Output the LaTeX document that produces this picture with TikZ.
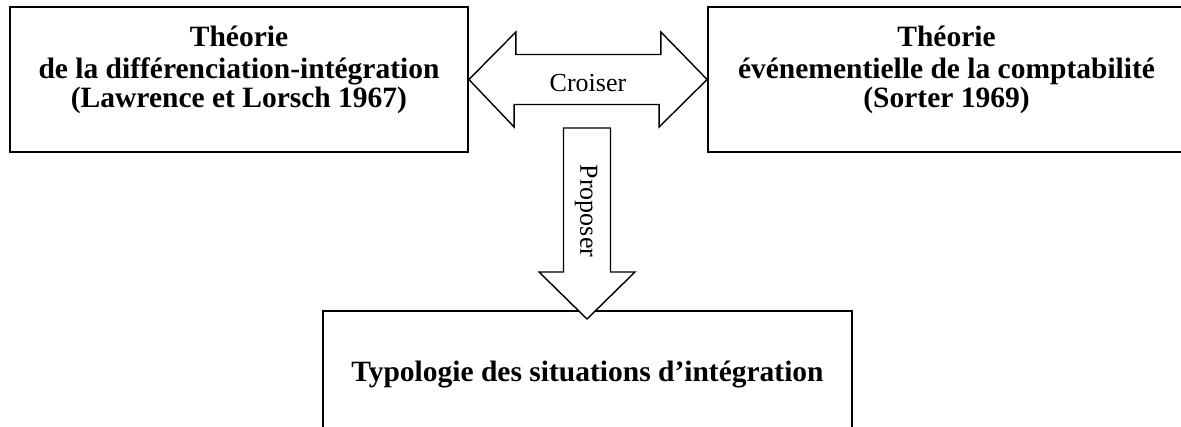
\documentclass[tikz,border=0pt]{standalone}
\usepackage{fontspec}
\setmainfont{Liberation Serif}
\tikzset{
  boxframe/.style={draw, line width=1.8pt, fill=white, inner sep=0pt},
  bt/.style={font=\fontsize{29.5}{30.5}\selectfont\bfseries, anchor=base, inner sep=0pt},
  rt/.style={font=\fontsize{26}{28}\selectfont, inner sep=0pt},
  blockarrow/.style={draw, line width=1.4pt, fill=white, line join=miter}
}
\begin{document}
\begin{tikzpicture}[x=1pt,y=-1pt]
\useasboundingbox (0,0) rectangle (1181,427);
% boxes
\node[boxframe, minimum width=458pt, minimum height=145pt] (left) at (239,79.5) {};
\node[boxframe, minimum width=477pt, minimum height=145pt] (right) at (946.5,79.5) {};
\node[boxframe, minimum width=529pt, minimum height=140pt] (bottom) at (587.5,381) {};
% double arrow (Croiser)
\draw[blockarrow] (left.east) -- ++(47,-47.5) -- ++(0,22.5) -- ++(145,0) -- ++(0,-22.5)
  -- (right.west) -- ++(-48,47.5) -- ++(0,-22.5) -- ++(-145,0) -- ++(0,22.5) -- cycle;
% down arrow (Proposer)
\coordinate (dtip) at (587,319);
\draw[blockarrow] (dtip) -- ++(-48,-47) -- ++(24.5,0) -- ++(0,-144) -- ++(47,0)
  -- ++(0,144) -- ++(24.5,0) -- cycle;
% texts
\node[bt] (l1) at (239,47) {Théorie};
\node[bt] (l2) at (239,78.5) {de la différenciation-intégration};
\node[bt] (l3) at (239,108) {(Lawrence et Lorsch 1967)};
\node[bt] (r1) at (946.5,47) {Théorie};
\node[bt] (r2) at (946.5,78.5) {événementielle de la comptabilité};
\node[bt] (r3) at (946.5,108) {(Sorter 1969)};
\node[bt] (b1) at (587.5,382) {Typologie des situations d’intégration};
\node[rt] (cro) at (588,83) {Croiser};
\node[rt, rotate=-90] (pro) at (586,211) {Proposer};
\end{tikzpicture}
\end{document}
